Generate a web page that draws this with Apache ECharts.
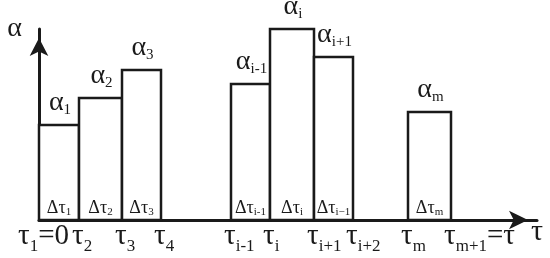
<!DOCTYPE html>
<html>
<head>
<meta charset="utf-8">
<script src="https://cdn.jsdelivr.net/npm/echarts@6/dist/echarts.min.js"></script>
<style>
  html, body { margin: 0; padding: 0; background: #fff; }
  #chart { width: 550px; height: 258px; }
</style>
</head>
<body>
<div id="chart"></div>
<script>
// bar edges along tau and heights alpha
const barStart = [0, 40, 83, 192, 231, 275, 369];
const barEnd = [40, 83, 122, 231, 275, 314, 412];
const alphaValues = [95, 122, 150, 136, 191, 163, 108];
const alphaSubs = ["1", "2", "3", "i-1", "i", "i+1", "m"];
const dtauSubs = ["1", "2", "3", "i-1", "i", "i\u22121", "m"];

// tick labels on the tau axis
const tickValues = [0, 40, 83, 122, 192, 231, 275, 314, 369, 412];
const tickSubs = ["1", "2", "3", "4", "i-1", "i", "i+1", "i+2", "m", "m+1"];
const tickTails = ["=0", "", "", "", "", "", "", "", "", "=\u03c4"];

const ink = "#1a1a1a";
const serif = "'Liberation Serif', 'DejaVu Serif', serif";

const chart = echarts.init(document.getElementById("chart"), null, { renderer: "canvas" });

const barData = barStart.map((s, i) => [s, barEnd[i], alphaValues[i], i]);
const tickData = tickValues.map((v, i) => [v, 0, i]);

// main glyph with a lowered subscript
function subRich(mainSize, subSize, drop) {
  return {
    m: { fontFamily: serif, fontSize: mainSize, lineHeight: mainSize, verticalAlign: "top", fill: ink },
    s: {
      fontFamily: serif,
      fontSize: subSize,
      lineHeight: subSize,
      padding: [drop, 0, 0, 0],
      verticalAlign: "top",
      fill: ink,
    },
  };
}

const options = {
  animation: false,
  grid: { left: 39, right: 13, top: 29, bottom: 38 },
  xAxis: {
    type: "value",
    min: 0,
    max: 498,
    name: "\u03c4",
    nameLocation: "end",
    nameGap: 0,
    nameTextStyle: {
      fontFamily: serif,
      fontSize: 30,
      color: ink,
      align: "center",
      verticalAlign: "top",
      padding: [-3, 0, 0, 0],
    },
    axisLine: {
      lineStyle: { color: ink, width: 3 },
      symbol: ["none", "arrow"],
      symbolSize: [14, 19],
      symbolOffset: [0, -9],
    },
    axisTick: { show: false },
    axisLabel: { show: false },
    splitLine: { show: false },
  },
  yAxis: {
    type: "value",
    min: 0,
    max: 191,
    name: "\u03b1",
    nameLocation: "end",
    nameGap: 0,
    nameTextStyle: {
      fontFamily: serif,
      fontSize: 28,
      color: ink,
      align: "right",
      verticalAlign: "middle",
      padding: [0, 17, 0, 0],
    },
    axisLine: {
      lineStyle: { color: ink, width: 3 },
      symbol: ["none", "arrow"],
      symbolSize: [14, 18],
      symbolOffset: [0, -9],
    },
    axisTick: { show: false },
    axisLabel: { show: false },
    splitLine: { show: false },
  },
  series: [
    {
      type: "custom",
      data: barData,
      renderItem: (params, api) => {
        const i = api.value(3);
        const p0 = api.coord([api.value(0), 0]);
        const p1 = api.coord([api.value(1), api.value(2)]);
        const cx = (p0[0] + p1[0]) / 2;
        return {
          type: "group",
          children: [
            {
              type: "rect",
              shape: { x: p0[0], y: p1[1], width: p1[0] - p0[0], height: p0[1] - p1[1] },
              style: { fill: "#fff", stroke: ink, lineWidth: 2.5 },
            },
            {
              type: "text",
              x: cx + 1,
              y: p1[1] - 36,
              style: {
                text: "{m|\u03b1}{s|" + alphaSubs[i] + "}",
                align: "center",
                verticalAlign: "top",
                rich: subRich(28, 15, 14),
              },
            },
            {
              type: "text",
              x: cx,
              y: p0[1] - 21,
              style: {
                text: "{m|\u0394\u03c4}{s|" + dtauSubs[i] + "}",
                align: "center",
                verticalAlign: "top",
                rich: subRich(18, 11, 8),
              },
            },
          ],
        };
      },
    },
    {
      type: "custom",
      data: tickData,
      renderItem: (params, api) => {
        const i = api.value(2);
        const p = api.coord([api.value(0), 0]);
        const tail = tickTails[i] ? "{m|" + tickTails[i] + "}" : "";
        return {
          type: "text",
          x: p[0] + (i === 0 ? -21 : -7),
          y: p[1] + 2,
          style: {
            text: "{m|\u03c4}{s|" + tickSubs[i] + "}" + tail,
            align: "left",
            verticalAlign: "top",
            rich: subRich(29, 17, 16),
          },
        };
      },
    },
  ],
};

chart.setOption(options);

window.addEventListener("resize", () => {
  chart.resize();
});
</script>
</body>
</html>
